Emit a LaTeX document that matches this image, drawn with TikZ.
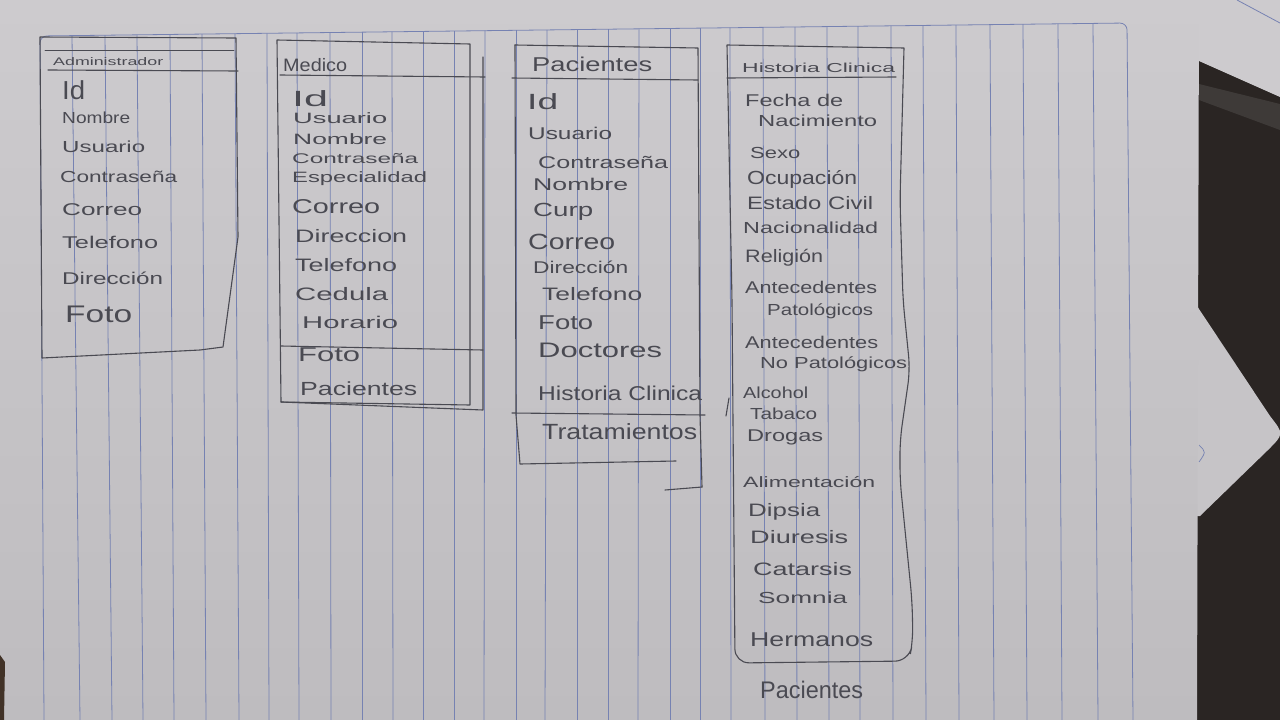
\documentclass[tikz,border=0pt]{standalone}
\usepackage{fontspec}
\setmainfont{Liberation Sans}
\usepackage{graphicx}
\definecolor{papertop}{RGB}{205,203,206}
\definecolor{paperbot}{RGB}{190,188,191}
\definecolor{desk}{RGB}{42,37,35}
\definecolor{deskband}{RGB}{62,58,56}
\definecolor{flap}{RGB}{198,196,199}
\definecolor{rule}{RGB}{118,130,178}
\definecolor{ink}{RGB}{74,74,82}
\newcommand{\hwt}[3]{{\fontsize{#2}{#2}\selectfont\resizebox{#1pt}{\height}{#3}}}
\tikzset{
  lbl/.style={anchor=west, inner sep=0pt, text=ink},
  ruled/.style={draw=rule, line width=0.8pt},
  pencil/.style={draw=ink, line width=1.1pt, line join=round, line cap=round},
}
\begin{document}
\begin{tikzpicture}[x=1pt,y=-1pt]
\useasboundingbox (0,0) rectangle (1280,720);
% background: desk, paper
\fill[desk] (0,0) rectangle (1280,720);
\fill[papertop] (1190,0) -- (1280,0) -- (1280,97) -- (1190,57) -- cycle;
\fill[deskband] (1199,84) -- (1280,104) -- (1280,130) -- (1199,100) -- cycle;
\draw[ruled] (1237,0) -- (1280,23);
\fill[flap] (1190,300) -- (1197,306) -- (1270,416) .. controls (1284,434) .. (1268,450) -- (1200,516) -- (1190,516) -- cycle;
\draw[rule, line width=0.7pt] (1199,445) .. controls (1206,452) .. (1199,462);
\shade[top color=papertop, bottom color=paperbot] (0,0) -- (1199,0) -- (1197,720) -- (0,720) -- cycle;
\fill[desk!85!brown] (0,655) -- (5,662) -- (4,720) -- (0,720) -- cycle;
% ruled lines
\foreach \xt/\xb in {72/80,105/112,137/143,170/174,202/206,235/239,267/269,297/299,330/331,362/362,392/393,423/423,454/454,485/484,516/516,547/545,577/577,608/608,639/638,670/670,700/700,730/731,763/765,795/797,827/829,858/860,891/893,923/926,956/959,990/994,1023/1027,1058/1062,1093/1098}{
  \pgfmathsetmacro\yt{36-0.012*(\xt-40)}
  \draw[ruled] (\xt,\yt) -- (\xb,720);
}
\draw[ruled, rounded corners=7pt] (44,720) -- (40,36) -- (1127,23) -- (1133,720);

% ---------- Administrador ----------
\draw[pencil] (40,37) -- (236,38) -- (238,237) -- (223,347) -- (200,350) -- (42,358) -- cycle;
\draw[pencil, line width=0.8pt] (45,50) -- (234,50);
\draw[pencil] (48,70) -- (238,71);
\node[lbl] (at0) at (53,62) {\hwt{110}{11}{Administrador}};
\node[lbl] (at1) at (62,90) {\hwt{23}{26}{Id}};
\node[lbl] (at2) at (62,118) {\hwt{68}{16}{Nombre}};
\node[lbl] (at3) at (62,147) {\hwt{83}{16}{Usuario}};
\node[lbl] (at4) at (60,177) {\hwt{117}{16}{Contraseña}};
\node[lbl] (at5) at (62,210) {\hwt{80}{17}{Correo}};
\node[lbl] (at6) at (62,242) {\hwt{96}{17}{Telefono}};
\node[lbl] (at7) at (62,278) {\hwt{101}{17}{Dirección}};
\node[lbl] (at8) at (65,314) {\hwt{67}{24}{Foto}};

% ---------- Medico ----------
\draw[pencil] (277,40) -- (470,44) -- (470,405) -- (281,402) -- cycle;
\draw[pencil] (483,57) -- (483,410) -- (281,402);
\draw[pencil] (280,75) -- (485,77);
\draw[pencil] (281,346) -- (483,350);
\node[lbl] (mt0) at (283,65) {\hwt{64}{18}{Medico}};
\node[lbl] (m1) at (292,99) {\hwt{36}{22}{Id}};
\node[lbl] (m2) at (293,118) {\hwt{94}{15}{Usuario}};
\node[lbl] (m3) at (293,139) {\hwt{94}{15}{Nombre}};
\node[lbl] (m4) at (292,159) {\hwt{126}{14}{Contraseña}};
\node[lbl] (m5) at (292,179) {\hwt{135}{15}{Especialidad}};
\node[lbl] (m6) at (292,207) {\hwt{88}{20}{Correo}};
\node[lbl] (m7) at (295,236) {\hwt{112}{18}{Direccion}};
\node[lbl] (m8) at (295,265) {\hwt{102}{18}{Telefono}};
\node[lbl] (m9) at (295,294) {\hwt{93}{18}{Cedula}};
\node[lbl] (m10) at (302,322) {\hwt{96}{17}{Horario}};
\node[lbl] (m11) at (298,355) {\hwt{62}{20}{Foto}};
\node[lbl] (m12) at (300,389) {\hwt{117}{19}{Pacientes}};

% ---------- Pacientes ----------
\draw[pencil] (515,45) -- (698,48) -- (700,415) -- (702,487);
\draw[pencil] (515,45) -- (516,415) -- (520,464) -- (676,461);
\draw[pencil] (665,490) -- (702,487);
\draw[pencil] (512,78) -- (698,80);
\draw[pencil] (512,413) -- (705,415);
\node[lbl] (pt0) at (532,64) {\hwt{120}{20}{Pacientes}};
\node[lbl] (p1) at (527,102) {\hwt{31}{22}{Id}};
\node[lbl] (p2) at (528,133) {\hwt{84}{17}{Usuario}};
\node[lbl] (p3) at (538,162) {\hwt{130}{17}{Contraseña}};
\node[lbl] (p4) at (533,184) {\hwt{95}{17}{Nombre}};
\node[lbl] (p5) at (533,212) {\hwt{60}{19}{Curp}};
\node[lbl] (p6) at (528,242) {\hwt{87}{22}{Correo}};
\node[lbl] (p7) at (533,267) {\hwt{95}{17}{Dirección}};
\node[lbl] (p8) at (542,294) {\hwt{100}{18}{Telefono}};
\node[lbl] (p9) at (538,323) {\hwt{55}{20}{Foto}};
\node[lbl] (p10) at (538,350) {\hwt{124}{21}{Doctores}};
\node[lbl] (p11) at (538,393) {\hwt{164}{20}{Historia Clinica}};
\node[lbl] (p12) at (542,432) {\hwt{155}{22}{Tratamientos}};

% ---------- Historia Clinica ----------
\draw[pencil] (904,48) -- (727,45) [rounded corners=14pt] -- (732,300) -- (735,663) -- (909,661) -- (913,640) -- (912,600) -- (900,480) -- (900,440) -- (910,370) -- (903,300) -- (900,200) [sharp corners] -- cycle;
\draw[pencil] (727,78) -- (896,77);
\draw[pencil] (729,398) -- (726,416);
\node[lbl] (ht0) at (742,68) {\hwt{153}{13}{Historia Clinica}};
\node[lbl] (h1) at (745,100) {\hwt{98}{17}{Fecha de}};
\node[lbl] (h2) at (758,121) {\hwt{119}{16}{Nacimiento}};
\node[lbl] (h3) at (750,153) {\hwt{50}{16}{Sexo}};
\node[lbl] (h4) at (747,179) {\hwt{110}{19}{Ocupación}};
\node[lbl] (h5) at (747,203) {\hwt{126}{18}{Estado Civil}};
\node[lbl] (h6) at (743,228) {\hwt{135}{16}{Nacionalidad}};
\node[lbl] (h7) at (745,258) {\hwt{78}{18}{Religión}};
\node[lbl] (h8) at (745,287) {\hwt{132}{17}{Antecedentes}};
\node[lbl] (h9) at (767,311) {\hwt{106}{16}{Patológicos}};
\node[lbl] (h10) at (745,342) {\hwt{133}{17}{Antecedentes}};
\node[lbl] (h11) at (760,364) {\hwt{147}{16}{No Patológicos}};
\node[lbl] (h12) at (743,393) {\hwt{65}{16}{Alcohol}};
\node[lbl] (h13) at (750,414) {\hwt{67}{16}{Tabaco}};
\node[lbl] (h14) at (747,437) {\hwt{76}{17}{Drogas}};
\node[lbl] (h15) at (743,482) {\hwt{132}{15}{Alimentación}};
\node[lbl] (h16) at (748,512) {\hwt{72}{18}{Dipsia}};
\node[lbl] (h17) at (750,537) {\hwt{98}{18}{Diuresis}};
\node[lbl] (h18) at (753,569) {\hwt{99}{18}{Catarsis}};
\node[lbl] (h19) at (758,598) {\hwt{89}{16}{Somnia}};
\node[lbl] (h20) at (750,640) {\hwt{123}{20}{Hermanos}};
\node[lbl] (h21) at (760,690) {\hwt{103}{24}{Pacientes}};
\end{tikzpicture}
\end{document}
